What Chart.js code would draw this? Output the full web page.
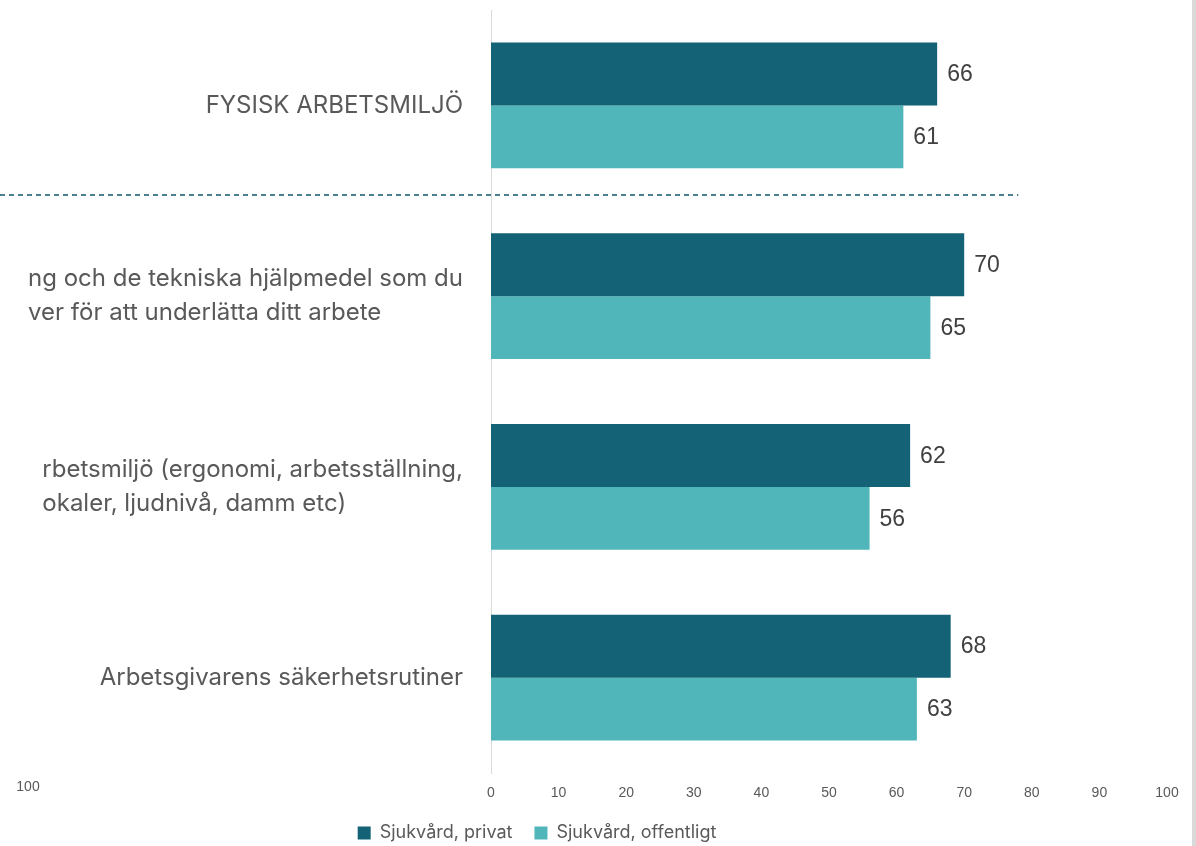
<!DOCTYPE html>
<html>
<head>
<meta charset="utf-8">
<script src="https://cdn.jsdelivr.net/npm/chart.js@4.4.1/dist/chart.umd.min.js"></script>
<style>
  html, body { margin: 0; padding: 0; background: #fff; overflow: hidden; }
  #wrap { position: relative; width: 1192px; height: 846px; border-right: 4px solid #d9d9d9; }
</style>
</head>
<body>
<div id="wrap"><canvas id="chart"></canvas></div>
<script>
const categories = [
  ['FYSISK ARBETSMILJÖ'],
  ['ng och de tekniska hjälpmedel som du', 'ver för att underlätta ditt arbete'],
  ['rbetsmiljö (ergonomi, arbetsställning,', 'okaler, ljudnivå, damm etc)'],
  ['Arbetsgivarens säkerhetsrutiner']
];
const seriesNames = ['Sjukvård, privat', 'Sjukvård, offentligt'];
const privat = [66, 70, 62, 68];
const offentligt = [61, 65, 56, 63];
const sideTickLabel = '100';

const labelFont = '24px Inter';
const grey = '#595959';
const padLeft = -93;

// category labels on the left, clipped like in the original
const categoryLabels = {
  id: 'categoryLabels',
  afterDraw(chart) {
    const { ctx, chartArea, scales: { x, y } } = chart;
    ctx.save();
    ctx.beginPath();
    ctx.rect(28, 0, chartArea.left - 28, chart.height);
    ctx.clip();
    ctx.font = labelFont;
    ctx.fillStyle = grey;
    ctx.textAlign = 'left';
    ctx.textBaseline = 'middle';
    categories.forEach((lines, i) => {
      const widest = Math.max(...lines.map(l => ctx.measureText(l).width));
      const lx = chartArea.left - 28 - widest;
      const yc = y.getPixelForValue(i);
      lines.forEach((line, k) => {
        ctx.fillText(line, lx, yc + (k - (lines.length - 1) / 2) * 34);
      });
    });
    ctx.restore();

    // dashed separator under the header row
    ctx.save();
    const sy = Math.round((y.getPixelForValue(0) + y.getPixelForValue(1)) / 2 - 6);
    ctx.strokeStyle = '#4a7f8f';
    ctx.lineWidth = 2;
    ctx.setLineDash([5, 4]);
    ctx.beginPath();
    ctx.moveTo(0, sy);
    ctx.lineTo(x.getPixelForValue(78), sy);
    ctx.stroke();
    ctx.restore();

    // stray axis label at the left
    ctx.save();
    ctx.font = '14px "Liberation Sans"';
    ctx.fillStyle = grey;
    ctx.textAlign = 'center';
    ctx.textBaseline = 'middle';
    ctx.fillText(sideTickLabel, 28, x.top + 14);
    ctx.restore();
  }
};

// value labels at the end of each bar
const valueLabels = {
  id: 'valueLabels',
  afterDatasetsDraw(chart) {
    const { ctx } = chart;
    ctx.save();
    ctx.font = '23px "Liberation Sans"';
    ctx.fillStyle = '#404040';
    ctx.textAlign = 'left';
    ctx.textBaseline = 'middle';
    chart.data.datasets.forEach((ds, i) => {
      chart.getDatasetMeta(i).data.forEach((bar, j) => {
        ctx.fillText(ds.data[j], bar.x + 10, bar.y + 1);
      });
    });
    ctx.restore();
  }
};

new Chart(document.getElementById('chart'), {
  type: 'bar',
  data: {
    labels: categories.map(c => c.join(' ')),
    datasets: [
      {
        label: seriesNames[0],
        data: privat,
        backgroundColor: '#136276',
        borderWidth: 0,
        categoryPercentage: 0.66,
        barPercentage: 1
      },
      {
        label: seriesNames[1],
        data: offentligt,
        backgroundColor: '#50b6ba',
        borderWidth: 0,
        categoryPercentage: 0.66,
        barPercentage: 1
      }
    ]
  },
  options: {
    indexAxis: 'y',
    responsive: true,
    maintainAspectRatio: false,
    animation: false,
    layout: {
      padding: { left: padLeft, right: 25, top: 10, bottom: -6 }
    },
    scales: {
      x: {
        min: 0,
        max: 100,
        afterFit(scale) {
          scale.height = 29;
        },
        ticks: {
          stepSize: 10,
          color: grey,
          font: { family: 'Liberation Sans', size: 14 },
          padding: 12
        },
        grid: { display: false, drawTicks: false },
        border: { display: false }
      },
      y: {
        afterFit(scale) {
          scale.width = 491 - padLeft;
        },
        ticks: { display: false },
        grid: { display: false, drawTicks: false },
        border: { display: true, color: '#d9d9d9', width: 1 }
      }
    },
    plugins: {
      legend: {
        position: 'bottom',
        labels: {
          boxWidth: 13,
          boxHeight: 13,
          padding: 22,
          color: grey,
          font: { family: 'Inter', size: 18 }
        }
      },
      tooltip: { enabled: false }
    }
  },
  plugins: [categoryLabels, valueLabels]
});
</script>
</body>
</html>
